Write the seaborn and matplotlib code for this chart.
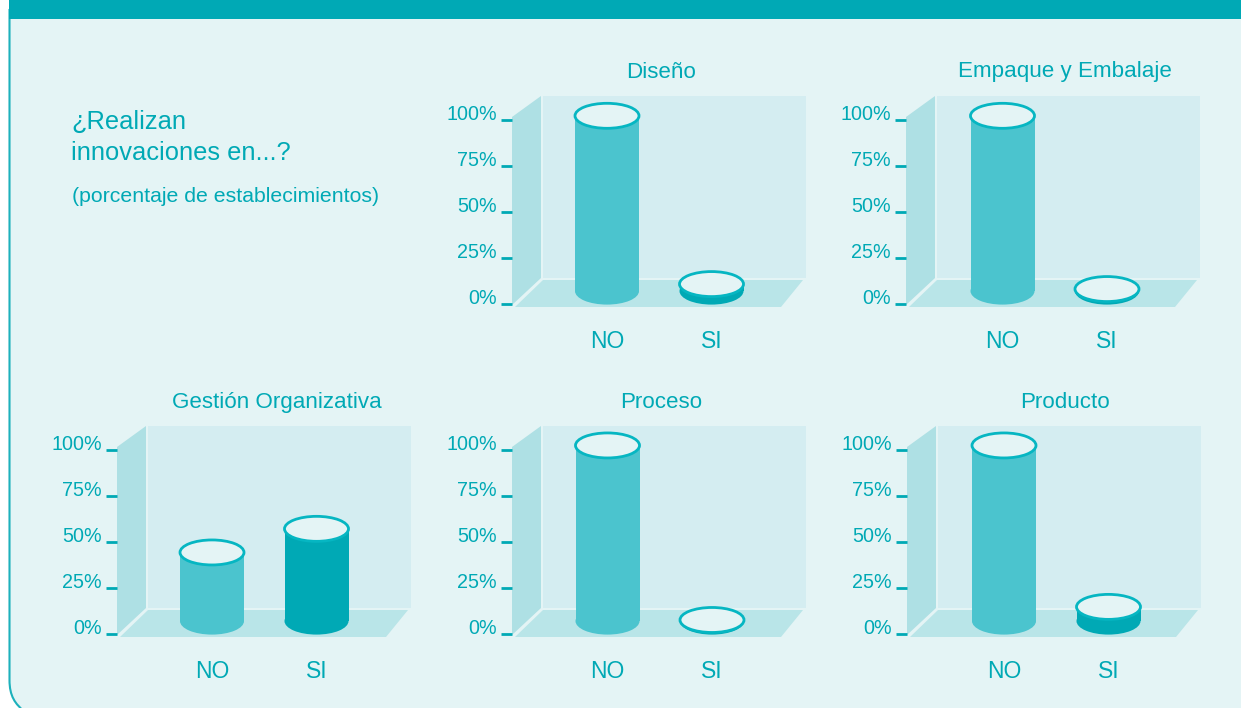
import matplotlib
matplotlib.use('Agg')
import matplotlib.pyplot as plt
import seaborn as sns
from matplotlib.patches import Ellipse, Polygon, PathPatch
from matplotlib.path import Path

sns.set_theme(style='white')
plt.rcParams['font.family'] = ['Liberation Sans', 'DejaVu Sans']

# Data
categories = ['NO', 'SI']
tick_values = [0, 25, 50, 75, 100]
tick_labels = ['0%', '25%', '50%', '75%', '100%']
titles = ['Diseño', 'Empaque y Embalaje', 'Gestión Organizativa', 'Proceso', 'Producto']
diseno = [95, 3.8]
empaque = [95, 1.1]
gestion = [37.2, 50]
proceso = [95.2, 0.6]
producto = [95.2, 7.7]

# Colours
TEAL = '#00A9B5'
TEAL_LIGHT = '#4BC4CE'
BG = '#E4F4F5'
BACK_WALL = '#D4EDF1'
SIDE_WALL = '#AEE0E4'
FLOOR = '#B9E5E8'
CAP_EDGE = '#06B6C2'

W, H = 1241, 708
PX_PER_UNIT = 1.845
BASE = 7  # bars stand on the floor, a little behind the front edge
BAR_STEP = 104.5
BAR_PX = 64

fig = plt.figure(figsize=(W / 100, H / 100), dpi=100, facecolor='white')

# Background in pixel coordinates
bg = fig.add_axes([0, 0, 1, 1], zorder=0)
bg.set_xlim(0, W)
bg.set_ylim(H, 0)
bg.axis('off')

frame = Path(
    [(9.5, 10), (9.5, 680), (9.5, 696), (15, 704), (25, 712), (W + 5, 712), (W + 5, 10), (9.5, 10)],
    [Path.MOVETO, Path.LINETO, Path.CURVE4, Path.CURVE4, Path.CURVE4, Path.LINETO, Path.LINETO, Path.CLOSEPOLY],
)
bg.add_patch(PathPatch(frame, facecolor=BG, edgecolor='#1DB1BC', lw=1.5))
bg.fill_between([9, W], 0, 19, color=TEAL, lw=0)


def draw_walls(x0, y0):
    # x0 is the front edge of the side wall, y0 the pixel row of the 0% tick
    bg.add_patch(Polygon([(x0 + 31, y0 - 208), (x0 + 294, y0 - 208), (x0 + 294, y0 - 26), (x0 + 31, y0 - 26)],
                         facecolor=BACK_WALL, edgecolor='none'))
    bg.add_patch(Polygon([(x0, y0 - 187), (x0 + 29, y0 - 208), (x0 + 29, y0 - 26), (x0, y0 + 1)],
                         facecolor=SIDE_WALL, edgecolor='none'))
    bg.add_patch(Polygon([(x0 + 3, y0 + 3), (x0 + 31, y0 - 24), (x0 + 291, y0 - 24), (x0 + 269, y0 + 3)],
                         facecolor=FLOOR, edgecolor='none'))


def draw_panel(x0, y0, title, values, centre, title_x):
    draw_walls(x0, y0)

    top = y0 - 208
    width = 294
    height = 211
    ax = fig.add_axes([x0 / W, 1 - (top + height) / H, width / W, height / H], zorder=1)
    ax.patch.set_alpha(0)

    sns.barplot(x=categories, y=values, hue=categories, palette=[TEAL_LIGHT, TEAL], bottom=BASE,
                width=BAR_PX / BAR_STEP, legend=False, saturation=1, linewidth=0, ax=ax)

    ax.set_xlim(-centre / BAR_STEP, (width - centre) / BAR_STEP)
    ax.set_ylim(-3 / PX_PER_UNIT, 208 / PX_PER_UNIT)

    # Rounded foot and open top of each cylinder
    bar_w = BAR_PX / BAR_STEP
    cap_h = 25 / PX_PER_UNIT
    foot_h = 27 / PX_PER_UNIT
    for i, (v, colour) in enumerate(zip(values, [TEAL_LIGHT, TEAL])):
        ax.add_patch(Ellipse((i, BASE), bar_w, foot_h, facecolor=colour, edgecolor='none', zorder=2))
        ax.add_patch(Ellipse((i, BASE + v), bar_w, cap_h, facecolor=BG, edgecolor=CAP_EDGE, lw=2, zorder=3))

    ax.set_yticks(tick_values)
    ax.set_yticklabels(tick_labels, fontsize=14.2, color=TEAL)
    for lab in ax.get_yticklabels():
        lab.set_verticalalignment('baseline')
    ax.tick_params(axis='y', length=8, width=2, color=TEAL, pad=3, left=True)
    ax.tick_params(axis='x', length=0, pad=16.7, labelsize=16.5, labelcolor=TEAL)
    ax.set_xlabel('')
    ax.set_ylabel('')
    sns.despine(ax=ax, left=True, bottom=True)

    fig.text(title_x / W, 1 - (y0 - 232) / H, title, fontsize=16.1, color=TEAL, ha='center', va='center')


draw_panel(512, 304, titles[0], diseno, 95, 661)
draw_panel(906, 304, titles[1], empaque, 96.5, 1065)
draw_panel(117, 634, titles[2], gestion, 95, 277)
draw_panel(512, 634, titles[3], proceso, 95.5, 661)
draw_panel(907, 634, titles[4], producto, 97, 1065)

fig.text(71 / W, 1 - 137.5 / H, '¿Realizan\ninnovaciones en...?', fontsize=18.4, color=TEAL,
         ha='left', va='center', linespacing=1.35)
fig.text(72 / W, 1 - 196 / H, '(porcentaje de establecimientos)', fontsize=15.3, color=TEAL, ha='left', va='center')

fig.savefig('out.png', dpi=100)
